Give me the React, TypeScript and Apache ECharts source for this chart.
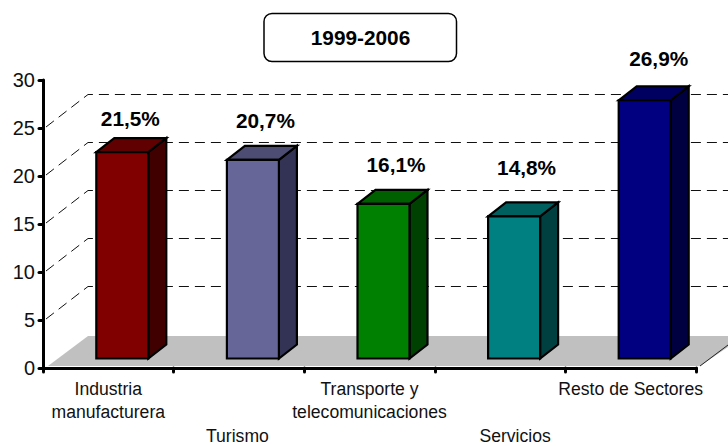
import React, { useEffect, useRef } from "react";
import * as echarts from "echarts";

const categories = ["Industria\nmanufacturera", "Turismo", "Transporte y\ntelecomunicaciones", "Servicios", "Resto de Sectores"];
const lowered = ["Turismo"];
const loweredRight = ["Servicios"];
const values = [21.5, 20.7, 16.1, 14.8, 26.9];
const valueLabels = ["21,5%", "20,7%", "16,1%", "14,8%", "26,9%"];
const wallTicks = [5, 10, 15, 20, 25];
const faceColors = ["#800000", "#666699", "#008000", "#008080", "#000080"];
const topColors = ["#600000", "#4d4d73", "#006000", "#006060", "#000060"];
const sideColors = ["#400000", "#333355", "#004000", "#004040", "#000040"];
const labelShift: [number, number][] = [[8, -33.5], [12.5, -39.5], [12.5, -39], [12.5, -48.5], [14, -42]];
const titleText = "1999-2006";

const FONT = "'Liberation Sans', Arial, sans-serif";
const AXIS_FONT = 17.6;
const BAR_W = 52, BAR_DX = 14, BAR_DY = -9.5, DEPTH_X = 18, DEPTH_Y = -14;
const WALL_DX = 45, WALL_DY = -33.5;

export default function App() {
  const ref = useRef<HTMLDivElement>(null);
  useEffect(() => {
    const chart = echarts.init(ref.current!, null, { renderer: "svg" });
    chart.setOption({
      animation: false,
      backgroundColor: "#fff",
      grid: { left: 43, right: 32, top: 80, bottom: 78, outerBoundsMode: "none" },
      xAxis: {
        type: "category",
        data: categories,
        axisLine: { lineStyle: { color: "#000", width: 3, cap: "round" } },
        axisTick: { show: true, length: 4, lineStyle: { color: "#000", width: 3, cap: "round" } },
        axisLabel: {
          interval: 0,
          margin: 9,
          color: "#111",
          fontFamily: FONT,
          fontSize: AXIS_FONT,
          formatter: (v: string) => {
            if (lowered.includes(v)) return `{gap| }\n{l|${v}}`;
            if (loweredRight.includes(v)) return `{gap| }\n{r|${v}}`;
            return v.split("\n").map((l) => `{n|${l}}`).join("\n");
          },
          rich: {
            gap: { lineHeight: 52, fontSize: AXIS_FONT, fontFamily: FONT },
            n: { lineHeight: 23, fontSize: AXIS_FONT, fontFamily: FONT, color: "#111" },
            l: { lineHeight: 14, fontSize: AXIS_FONT, fontFamily: FONT, color: "#111", padding: [0, 3, 0, 0] },
            r: { lineHeight: 14, fontSize: AXIS_FONT, fontFamily: FONT, color: "#111", padding: [0, 0, 0, 30] },
          },
        },
        splitLine: { show: false },
      },
      yAxis: {
        type: "value",
        min: 0,
        max: 30,
        interval: 5,
        axisLine: { show: true, lineStyle: { color: "#000", width: 3, cap: "round" } },
        axisTick: { show: true, length: 4, lineStyle: { color: "#000", width: 3, cap: "round" } },
        axisLabel: { margin: 8, color: "#111", fontFamily: FONT, fontSize: 20 },
        splitLine: { show: false },
      },
      series: [
        {
          type: "custom",
          coordinateSystem: "cartesian2d",
          z: -1,
          data: [[0, 0]],
          silent: true,
          renderItem: (params: any, api: any) => {
            const cs = params.coordSys;
            const y0 = api.coord([0, 0])[1];
            const fl = 40, ft = -32;
            const lx = cs.x + 5, rx = cs.x + cs.width + 4;
            return {
              type: "group",
              children: [
                {
                  type: "polygon",
                  shape: { points: [[lx, y0 - 2], [lx + fl, y0 + ft], [728, y0 + ft], [728, y0 - 21], [rx, y0 - 2]] },
                  style: { fill: "#c0c0c0" },
                },
                {
                  type: "line",
                  shape: { x1: rx, y1: y0 - 2, x2: 728, y2: y0 - 23 },
                  style: { stroke: "#222", lineWidth: 1 },
                },
              ],
            };
          },
        },
        {
          type: "custom",
          coordinateSystem: "cartesian2d",
          z: 0,
          silent: true,
          data: wallTicks.map((v) => [0, v]),
          renderItem: (params: any, api: any) => {
            const cs = params.coordSys;
            const y = api.coord([0, api.value(1)])[1];
            const style = { stroke: "#111", lineWidth: 1, lineDash: [10, 6], fill: "none" };
            return {
              type: "polyline",
              shape: { points: [[cs.x + 3, y - 1], [cs.x + WALL_DX, y + WALL_DY], [728, y + WALL_DY]] },
              style,
            };
          },
        },
        {
          type: "custom",
          coordinateSystem: "cartesian2d",
          z: 2,
          data: values.map((v, i) => [i, v]),
          renderItem: (params: any, api: any) => {
            const i = params.dataIndex;
            const [cx, yt] = api.coord([api.value(0), api.value(1)]);
            const [, yb] = api.coord([api.value(0), 0]);
            const x0 = cx + BAR_DX - BAR_W / 2, x1 = x0 + BAR_W;
            const t = yt + BAR_DY, b = yb + BAR_DY;
            const edge = { stroke: "#000", lineWidth: 2.2, lineJoin: "miter" };
            const [lsx, lsy] = labelShift[i];
            return {
              type: "group",
              children: [
                {
                  type: "polygon",
                  shape: { points: [[x1, t], [x1 + DEPTH_X, t + DEPTH_Y], [x1 + DEPTH_X, b + DEPTH_Y], [x1, b]] },
                  style: { fill: sideColors[i], ...edge },
                },
                {
                  type: "polygon",
                  shape: { points: [[x0, t], [x0 + DEPTH_X, t + DEPTH_Y], [x1 + DEPTH_X, t + DEPTH_Y], [x1, t]] },
                  style: { fill: topColors[i], ...edge },
                },
                {
                  type: "rect",
                  shape: { x: x0, y: t, width: BAR_W, height: b - t },
                  style: { fill: faceColors[i], ...edge },
                },
                {
                  type: "text",
                  x: cx + BAR_DX + lsx,
                  y: t + lsy,
                  style: {
                    text: valueLabels[i],
                    fill: "#000",
                    font: `bold 20.8px ${FONT}`,
                    textAlign: "center",
                    textVerticalAlign: "middle",
                  },
                },
              ],
            };
          },
        },
      ],
      graphic: [
        {
          type: "rect",
          shape: { x: 264, y: 13.5, width: 192.5, height: 48, r: 8 },
          style: { fill: "#fff", stroke: "#000", lineWidth: 1.5 },
        },
        {
          type: "text",
          x: 360.5,
          y: 37.5,
          style: {
            text: titleText,
            fill: "#000",
            font: `bold 20.8px ${FONT}`,
            textAlign: "center",
            textVerticalAlign: "middle",
          },
        },
      ],
    });
    return () => chart.dispose();
  }, []);
  return <div ref={ref} style={{ position: "fixed", left: 0, top: 0, width: 728, height: 446 }} />;
}
